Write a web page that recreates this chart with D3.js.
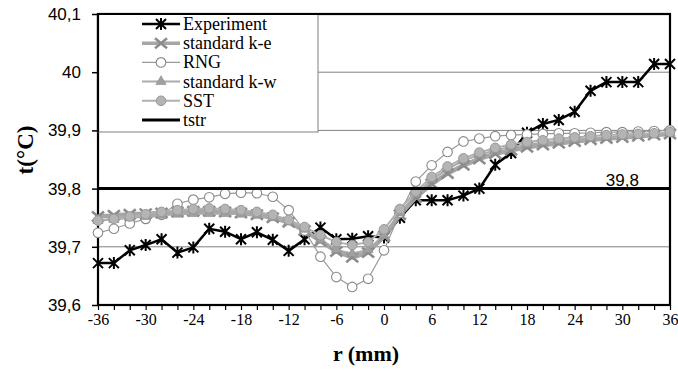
<!DOCTYPE html>
<html lang="en">
<head>
<meta charset="utf-8">
<title>t(°C) vs r (mm)</title>
<script src="https://d3js.org/d3.v7.min.js"></script>
<style>
  body { margin: 0; background: #fff; }
</style>
</head>
<body>
<div id="chart"></div>
<script>

// radius positions (mm), every 2 mm
var r = d3.range(-36, 37, 2);

var experiment = [39.672,39.672,39.694,39.703,39.713,39.690,39.699,39.731,39.726,39.713,39.725,39.712,39.693,39.713,39.733,39.713,39.714,39.718,
  39.716,
  39.750,39.780,39.780,39.780,39.788,39.800,39.841,39.861,39.896,39.911,39.918,39.932,39.968,39.983,39.983,39.983,40.014,40.014];

var standardKe = [39.752,39.754,39.756,39.757,39.758,39.760,39.761,39.761,39.760,39.758,39.755,39.750,39.742,39.728,39.710,39.692,39.682,39.690,
  39.718,
  39.755,39.785,39.808,39.826,39.840,39.851,39.860,39.866,39.871,39.875,39.878,39.881,39.884,39.886,39.888,39.890,39.892,39.894];

var rng = [39.724,39.731,39.740,39.748,39.755,39.774,39.781,39.785,39.791,39.793,39.792,39.786,39.763,39.728,39.683,39.648,39.631,39.645,
  39.694,
  39.758,39.812,39.840,39.863,39.881,39.886,39.890,39.892,39.893,39.894,39.895,39.895,39.896,39.897,39.897,39.898,39.899,39.900];

var standardKw = [39.745,39.747,39.750,39.752,39.754,39.756,39.757,39.757,39.757,39.756,39.754,39.750,39.743,39.730,39.712,39.695,39.688,39.695,
  39.720,
  39.758,39.790,39.815,39.834,39.848,39.858,39.866,39.872,39.876,39.879,39.882,39.884,39.886,39.888,39.890,39.892,39.894,39.896];

var sst = [39.745,39.748,39.752,39.756,39.760,39.763,39.765,39.766,39.765,39.763,39.760,39.755,39.746,39.734,39.720,39.708,39.703,39.708,
  39.730,
  39.765,39.795,39.820,39.838,39.852,39.862,39.870,39.876,39.880,39.883,39.886,39.888,39.890,39.892,39.893,39.894,39.895,39.897];

var tstr = 39.8;

var yTicks = [39.6, 39.7, 39.8, 39.9, 40, 40.1];
var xTicks = [-36, -30, -24, -18, -12, -6, 0, 6, 12, 18, 24, 30, 36];
var seriesNames = ["Experiment", "standard k-e", "RNG", "standard k-w", "SST", "tstr"];

var serifFont = "Liberation Serif";
var sansFont = "Liberation Sans";

// set the dimensions of the plot area
var width = 678, height = 371;
var plot = {left: 98, right: 670, top: 14, bottom: 305};

var svg = d3.select("#chart")
  .append("svg")
    .attr("width", width)
    .attr("height", height);

var x = d3.scaleLinear().domain([-36, 36]).range([plot.left, plot.right]);
var y = d3.scaleLinear().domain([39.6, 40.1]).range([plot.bottom, plot.top]);

var fmt = function(d) { return d3.format("~g")(d).replace(".", ","); };

// gridlines (39,8 is covered by tstr)
svg.append("g")
  .selectAll("line")
  .data([39.7, 39.9, 40])
  .enter()
  .append("line")
    .attr("x1", plot.left)
    .attr("x2", plot.right)
    .attr("y1", function(d) { return y(d); })
    .attr("y2", function(d) { return y(d); })
    .attr("stroke", "#808080")
    .attr("stroke-width", 1);

// Y axis
var yAxis = svg.append("g")
  .attr("transform", "translate(" + plot.left + ",0)")
  .call(d3.axisLeft(y).tickValues(yTicks).tickSize(6).tickPadding(11).tickFormat(fmt))
  .attr("font-family", sansFont)
  .attr("font-size", 17);
yAxis.select(".domain").remove();
yAxis.selectAll("line").attr("stroke", "#000").attr("stroke-width", 1.5);
yAxis.selectAll("text").attr("fill", "#000");

// X axis, minor ticks every 2 mm
var xAxis = svg.append("g")
  .attr("transform", "translate(0," + plot.bottom + ")")
  .call(d3.axisBottom(x).tickValues(r).tickSize(5).tickPadding(4)
    .tickFormat(function(d) { return xTicks.indexOf(d) >= 0 ? d : ""; }))
  .attr("font-family", serifFont)
  .attr("font-size", 16);
xAxis.select(".domain").remove();
xAxis.selectAll("line").attr("stroke", "#000").attr("stroke-width", 1.2);
xAxis.selectAll("text").attr("fill", "#000");

// plot frame
svg.append("rect")
  .attr("x", plot.left)
  .attr("y", plot.top)
  .attr("width", plot.right - plot.left)
  .attr("height", plot.bottom - plot.top)
  .attr("fill", "none")
  .attr("stroke", "#000")
  .attr("stroke-width", 2.2);

// marker drawers
function drawStar(g, col, w) {
  g.append("path").attr("d", "M-5,-5L5,5M-5,5L5,-5M0,-6L0,6")
    .attr("stroke", col).attr("stroke-width", w).attr("fill", "none");
}
function drawCross(g, col, w) {
  g.append("path").attr("d", "M-6,-5L6,5M-6,5L6,-5")
    .attr("stroke", col).attr("stroke-width", w).attr("fill", "none");
}
function drawRing(g, col) {
  g.append("circle").attr("r", 4.8).attr("fill", "#fff").attr("stroke", col).attr("stroke-width", 1.1);
}
function drawTri(g, col) {
  g.append("path").attr("d", d3.symbol().type(d3.symbolTriangle).size(45)())
    .attr("fill", col).attr("stroke", "#8a8a8a").attr("stroke-width", 0.6);
}
function drawDot(g, col) {
  g.append("circle").attr("r", 4.8).attr("fill", col).attr("stroke", "#999").attr("stroke-width", 1);
}

var series = [
  {name: seriesNames[0], values: experiment, stroke: "#000", width: 2.5,
   marker: function(g) { drawStar(g, "#000", 2); }},
  {name: seriesNames[1], values: standardKe, stroke: "#a6a6a6", width: 4.5,
   marker: function(g) { drawCross(g, "#8c8c8c", 2.6); }},
  {name: seriesNames[2], values: rng, stroke: "#9a9a9a", width: 1.2,
   marker: function(g) { drawRing(g, "#888"); }},
  {name: seriesNames[3], values: standardKw, stroke: "#aaaaaa", width: 2,
   marker: function(g) { drawTri(g, "#a0a0a0"); }},
  {name: seriesNames[4], values: sst, stroke: "#b0b0b0", width: 2,
   marker: function(g) { drawDot(g, "#b4b4b4"); }}
];

var line = d3.line()
  .x(function(d, i) { return x(r[i]); })
  .y(function(d) { return y(d); });

series.forEach(function(s) {
  var g = svg.append("g");
  g.append("path")
    .datum(s.values)
    .attr("d", line)
    .attr("fill", "none")
    .attr("stroke", s.stroke)
    .attr("stroke-width", s.width);
  g.selectAll("g.pt")
    .data(s.values)
    .enter()
    .append("g")
      .attr("class", "pt")
      .attr("transform", function(d, i) { return "translate(" + x(r[i]) + "," + y(d) + ")"; })
      .each(function() { s.marker(d3.select(this)); });
});

// tstr line
svg.append("line")
  .attr("x1", plot.left)
  .attr("x2", plot.right)
  .attr("y1", y(tstr))
  .attr("y2", y(tstr))
  .attr("stroke", "#000")
  .attr("stroke-width", 3);

svg.append("text")
  .attr("font-family", sansFont)
  .attr("font-size", 17)
  .attr("x", x(30))
  .attr("y", y(tstr) - 3)
  .attr("text-anchor", "middle")
  .text(fmt(tstr));

// legend box
var legend = svg.append("g");
legend.append("rect")
  .attr("x", plot.left)
  .attr("y", plot.top)
  .attr("width", 220)
  .attr("height", 118)
  .attr("fill", "#fff")
  .attr("stroke", "#808080")
  .attr("stroke-width", 1);
// redraw frame edges over legend
legend.append("path")
  .attr("d", "M" + plot.left + "," + (plot.top + 118) + "V" + plot.top + "H" + (plot.left + 221))
  .attr("stroke", "#000").attr("stroke-width", 2.2).attr("fill", "none");

var legendItems = series.concat([{name: seriesNames[5], stroke: "#000", width: 3, marker: null}]);
legendItems.forEach(function(s, i) {
  var cy = 24 + i * 19.2;
  legend.append("line")
    .attr("x1", 142).attr("x2", 180)
    .attr("y1", cy).attr("y2", cy)
    .attr("stroke", s.stroke)
    .attr("stroke-width", Math.min(s.width, 3.5));
  if (s.marker) {
    var m = legend.append("g").attr("transform", "translate(161," + cy + ")");
    s.marker(m);
  }
  legend.append("text")
    .attr("font-family", serifFont)
    .attr("font-size", 18)
    .attr("x", 183)
    .attr("y", cy + 6)
    .text(s.name);
});

// axis titles
svg.append("text")
  .attr("font-family", serifFont)
  .attr("font-weight", "bold")
  .attr("font-size", 23)
  .attr("transform", "translate(33,150) rotate(-90)")
  .attr("text-anchor", "middle")
  .text("t(°C)");

svg.append("text")
  .attr("font-family", serifFont)
  .attr("font-weight", "bold")
  .attr("font-size", 22)
  .attr("x", 366)
  .attr("y", 361)
  .attr("text-anchor", "middle")
  .text("r (mm)");

</script>
</body>
</html>
